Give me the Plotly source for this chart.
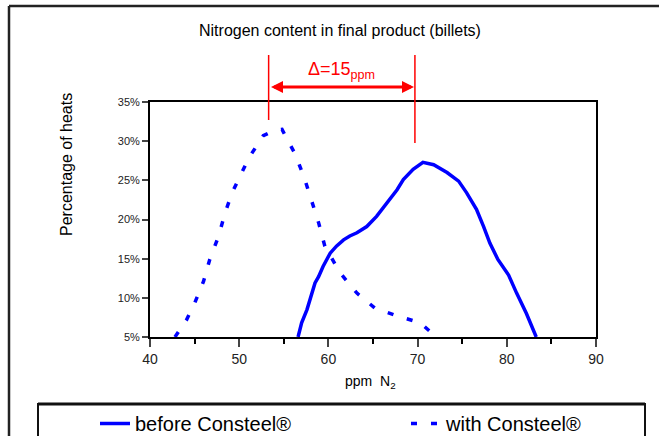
import plotly.graph_objects as go

# before Consteel (solid)
before_x = [56.6, 57.0, 57.6, 58.1, 58.5, 58.9, 59.4, 60.2, 60.9, 61.7, 62.4, 63.2, 64.3, 65.4,
            66.5, 67.7, 68.4, 69.5, 70.6, 71.8, 73.3, 74.6, 75.5, 76.6, 77.4, 78.1, 79.0, 80.2,
            81.1, 82.2, 83.3]
before_y = [5.0, 6.8, 8.5, 10.2, 11.9, 12.7, 14.0, 15.7, 16.6, 17.4, 17.9, 18.3, 19.1, 20.4,
            22.1, 23.8, 25.1, 26.4, 27.3, 27.0, 26.0, 24.9, 23.4, 21.3, 19.1, 17.0, 14.9, 12.9,
            10.6, 8.0, 5.0]

# with Consteel (dashed)
with_x = [42.8, 44.1, 45.0, 46.0, 46.7, 47.7, 48.4, 49.2, 50.0, 51.1, 52.7, 54.0, 54.8, 55.1,
          56.3, 57.3, 58.1, 58.9, 59.6, 61.3, 63.2, 65.2, 67.7, 70.3, 72.1]
with_y = [5.0, 7.2, 9.3, 12.1, 14.9, 17.9, 20.8, 23.4, 25.3, 27.9, 30.7, 31.4, 31.5, 30.9,
          28.3, 25.3, 22.6, 19.6, 16.6, 13.2, 10.6, 8.7, 7.7, 6.8, 5.0]

y_ticks = [5, 10, 15, 20, 25, 30, 35]
x_ticks = [40, 50, 60, 70, 80, 90]

delta_left = 53.3
delta_right = 69.7

BLUE = "#0000ff"
RED = "#ff0000"
FONT = "Liberation Sans, Arial, sans-serif"

fig = go.Figure()
fig.add_trace(go.Scatter(x=before_x, y=before_y, mode="lines", name="before Consteel®",
                         line=dict(color=BLUE, width=3.5), legend="legend"))
fig.add_trace(go.Scatter(x=with_x, y=with_y, mode="lines", name="with Consteel®",
                         line=dict(color=BLUE, width=3.5, dash="6px,14px"), legend="legend2"))

L, R, T, B = 150, 63, 102, 99
W, H = 659, 436
pw, ph = W - L - R, H - T - B


def px_x(p):
    return (p - L) / pw


def px_y(p):
    return (H - B - p) / ph


def cx(p):
    return p / W


def cy(p):
    return (H - p) / H


shapes = []
# outer frame (left and top)
shapes.append(dict(type="line", xref="paper", yref="paper", x0=px_x(9), x1=px_x(662),
                   y0=px_y(6), y1=px_y(6), line=dict(color="#222", width=2.5)))
shapes.append(dict(type="line", xref="paper", yref="paper", x0=px_x(9), x1=px_x(9),
                   y0=px_y(6), y1=px_y(440), line=dict(color="#222", width=2.5)))
# legend box
shapes.append(dict(type="rect", xref="paper", yref="paper", x0=px_x(38), x1=px_x(645),
                   y0=px_y(404), y1=px_y(445), line=dict(color="#111", width=2)))
shapes.append(dict(type="line", xref="paper", yref="paper", x0=px_x(38), x1=px_x(645),
                   y0=px_y(404), y1=px_y(404), line=dict(color="#111", width=3)))
# red delta lines
shapes.append(dict(type="line", xref="x", yref="paper", x0=delta_left, x1=delta_left,
                   y0=px_y(55), y1=px_y(120), line=dict(color=RED, width=1.5)))
shapes.append(dict(type="line", xref="x", yref="paper", x0=delta_right, x1=delta_right,
                   y0=px_y(55), y1=px_y(143), line=dict(color=RED, width=1.5)))

annotations = [
    dict(text="Nitrogen content in final product (billets)", xref="paper", yref="paper",
         x=px_x(340), y=px_y(30), xanchor="center", yanchor="middle", showarrow=False,
         font=dict(size=16, color="black", family=FONT)),
    dict(text="Percentage of heats", xref="paper", yref="paper", x=px_x(66), y=px_y(165),
         xanchor="center", yanchor="middle", textangle=-90, showarrow=False,
         font=dict(size=16, color="black", family=FONT)),
    dict(text="ppm  N<sub>2</sub>", xref="paper", yref="paper", x=px_x(370), y=px_y(382),
         xanchor="center", yanchor="middle", showarrow=False,
         font=dict(size=14, color="black", family=FONT)),
    dict(text="Δ=15<sub>ppm</sub>", xref="x", yref="paper", x=(delta_left + delta_right) / 2,
         y=px_y(71), xanchor="center", yanchor="middle", showarrow=False,
         font=dict(size=18, color=RED, family=FONT)),
    dict(text="", xref="x", yref="paper", x=delta_right - 0.1, y=px_y(87),
         axref="x", ax=delta_left + 0.1, ayref="pixel", ay=0, showarrow=True,
         arrowside="end+start", arrowhead=2, startarrowhead=2, arrowsize=0.8,
         startarrowsize=0.8, arrowwidth=3, arrowcolor=RED),
]

fig.update_layout(
    width=W, height=H,
    margin=dict(l=L, r=R, t=T, b=B, autoexpand=False),
    paper_bgcolor="white", plot_bgcolor="white",
    font=dict(family=FONT, color="black"),
    shapes=shapes, annotations=annotations,
    showlegend=True,
    legend=dict(orientation="h", xref="container", yref="container", x=cx(95), y=cy(404),
                xanchor="left", yanchor="top",
                font=dict(size=20, family=FONT, color="black"), bgcolor="rgba(0,0,0,0)"),
    legend2=dict(orientation="h", xref="container", yref="container", x=cx(406), y=cy(404),
                 xanchor="left", yanchor="top",
                 font=dict(size=20, family=FONT, color="black"), bgcolor="rgba(0,0,0,0)"),
)
fig.update_xaxes(range=[40, 90], tickvals=x_ticks, ticks="outside", ticklen=8, tickwidth=1.5,
                 showline=True, linecolor="black", linewidth=1.8, mirror=True, showgrid=False,
                 zeroline=False, tickfont=dict(size=14, color="#222"),
                 minor=dict(tickvals=[45, 55, 65, 75, 85], ticks="outside", ticklen=5,
                            tickwidth=1.5, tickcolor="black", showgrid=False))
fig.update_yaxes(range=[5, 35], tickvals=y_ticks, ticktext=[f"{v}%" for v in y_ticks],
                 ticks="outside", ticklen=6, tickwidth=1.5, showline=True, linecolor="black",
                 linewidth=1.8, mirror=True, showgrid=False, zeroline=False,
                 tickfont=dict(size=11, color="#222"))

fig.write_html("out.html", config={"displayModeBar": False},
               post_script="document.body.style.margin='0';")
